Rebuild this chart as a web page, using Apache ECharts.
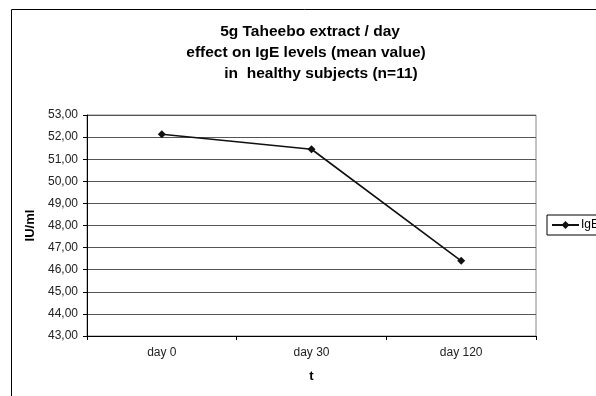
<!DOCTYPE html>
<html>
<head>
<meta charset="utf-8">
<script src="https://cdn.jsdelivr.net/npm/echarts@6/dist/echarts.min.js"></script>
<style>
html,body{margin:0;padding:0;background:#fff;}
#chart{width:596px;height:396px;}
</style>
</head>
<body>
<div id="chart"></div>
<script>
const categories = ['day 0', 'day 30', 'day 120'];
const igeValues = [52.13, 51.45, 46.40];
const seriesName = 'IgE';
const titleLines = ['5g Taheebo extract / day', 'effect on IgE levels (mean value)', 'in  healthy subjects (n=11)'];
const yAxisTitle = 'IU/ml';
const xAxisTitle = 't';

const chart = echarts.init(document.getElementById('chart'), null, {renderer: 'canvas'});
const font = '"Liberation Sans", Arial, sans-serif';
const titleX = [310, 306, 321];
const titleY = [32, 53, 74];

chart.setOption({
  animation: false,
  backgroundColor: '#fff',
  graphic: [
    {type: 'rect', shape: {x: 11.5, y: 9.5, width: 800, height: 600}, style: {fill: 'none', stroke: '#000', lineWidth: 1}, silent: true}
  ].concat(titleLines.map((t, i) => ({
    type: 'text', x: titleX[i], y: titleY[i],
    style: {text: t, fill: '#000', font: 'bold 15.5px ' + font, textAlign: 'center', textVerticalAlign: 'middle'}
  }))),
  grid: {left: 87, right: 60, top: 115, bottom: 60, show: true, borderColor: '#888', borderWidth: 1, backgroundColor: 'transparent'},
  legend: {
    data: [seriesName],
    left: 547, top: 215, orient: 'vertical',
    padding: [4, 4, 4, 4],
    borderColor: '#000', borderWidth: 1,
    itemWidth: 27, itemHeight: 10, itemGap: 0,
    textStyle: {fontFamily: font, fontSize: 12, color: '#000', padding: [0, 0, 0, -3]}
  },
  xAxis: {
    type: 'category', data: categories, boundaryGap: true,
    name: xAxisTitle, nameLocation: 'middle', nameGap: 34,
    nameTextStyle: {fontFamily: font, fontSize: 13, fontWeight: 'bold', color: '#000'},
    axisLine: {lineStyle: {color: '#000', width: 1}},
    axisTick: {show: true, length: 4, inside: false, alignWithLabel: false, lineStyle: {color: '#000'}},
    axisLabel: {fontFamily: font, fontSize: 12, color: '#222', margin: 11}
  },
  yAxis: {
    type: 'value', min: 43, max: 53, interval: 1,
    name: yAxisTitle, nameLocation: 'middle', nameGap: 45, nameRotate: 90,
    nameTextStyle: {fontFamily: font, fontSize: 13, fontWeight: 'bold', color: '#000'},
    axisLine: {show: true, lineStyle: {color: '#000', width: 1}},
    axisTick: {show: true, length: 4, inside: false, lineStyle: {color: '#000'}},
    axisLabel: {fontFamily: font, fontSize: 12, color: '#222', margin: 9,
      formatter: v => v.toFixed(2).replace('.', ',')},
    splitLine: {show: true, lineStyle: {color: '#555', width: 1}}
  },
  series: [{
    name: seriesName, type: 'line', data: igeValues,
    symbol: 'diamond', symbolSize: 8,
    lineStyle: {color: '#111', width: 1.6},
    itemStyle: {color: '#111'}
  }]
});
</script>
</body>
</html>
